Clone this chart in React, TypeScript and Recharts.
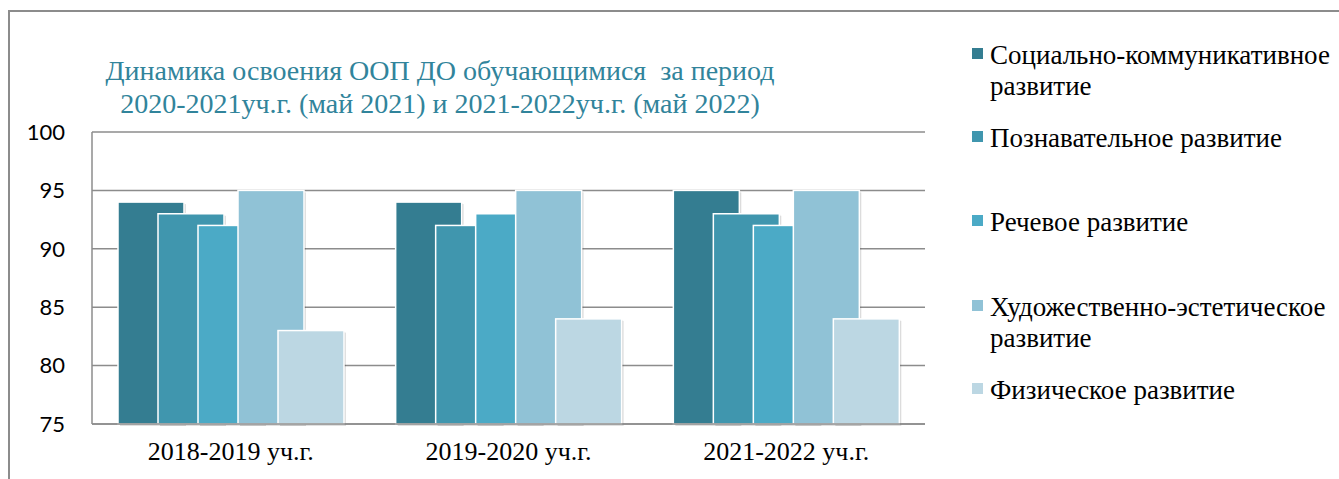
import React from 'react';
import { BarChart, Bar, XAxis, YAxis, CartesianGrid } from 'recharts';

const categories = ['2018-2019 уч.г.', '2019-2020 уч.г.', '2021-2022 уч.г.'];

const seriesNames = [
  'Социально-коммуникативное развитие',
  'Познавательное развитие',
  'Речевое развитие',
  'Художественно-эстетическое развитие',
  'Физическое развитие',
];

const socialValues = [94, 94, 95];
const cognitiveValues = [93, 92, 93];
const speechValues = [92, 93, 92];
const artValues = [95, 95, 95];
const physicalValues = [83, 84, 84];

const yTicks = [75, 80, 85, 90, 95, 100];

const COLORS = ['#347d91', '#4096ae', '#4baac6', '#90c2d6', '#bcd7e3'];

const seriesValues = [socialValues, cognitiveValues, speechValues, artValues, physicalValues];

const chartData = categories.map((name, i) => {
  const row: Record<string, string | number> = { name };
  seriesValues.forEach((vals, s) => {
    row[`s${s}`] = vals[i];
  });
  return row;
});

// legend rows: top of each item on the page
const LEGEND_TOPS = [40, 123, 207, 292, 375];

const BarShape = (props: any) => {
  const { x, y, width, height, fill } = props;
  if (!height || height <= 0) return null;
  return (
    <g>
      {/* soft shadow, offset down-right */}
      <rect x={x + 2} y={y + 2} width={width} height={height} fill="#000" fillOpacity={0.12} />
      <rect x={x + 1} y={y + 1} width={width} height={height} fill="#000" fillOpacity={0.1} />
      <rect x={x} y={y} width={width} height={height} fill={fill} stroke="#ffffff" strokeWidth={1.5} />
    </g>
  );
};

function ChartLegend() {
  return (
    <>
      {seriesNames.map((name, i) => (
        <div
          key={name}
          style={{
            position: 'absolute',
            left: 972,
            top: LEGEND_TOPS[i],
            width: 362,
            fontFamily: 'Liberation Serif',
            fontSize: 27,
            lineHeight: '31px',
            color: '#000',
          }}
        >
          <span
            style={{
              position: 'absolute',
              left: 0,
              top: 8,
              width: 11,
              height: 11,
              background: COLORS[i],
            }}
          />
          <div style={{ marginLeft: 18 }}>{name}</div>
        </div>
      ))}
    </>
  );
}

export default function App() {
  return (
    <div
      style={{
        position: 'relative',
        width: 1339,
        height: 479,
        overflow: 'hidden',
        fontFamily: 'Liberation Serif',
      }}
    >
      <style>{'body { margin: 0; }'}</style>
      <div
        style={{
          position: 'absolute',
          left: 8,
          top: 10,
          right: 0,
          bottom: 0,
          borderTop: '2px solid #8c8c8c',
          borderLeft: '2px solid #8c8c8c',
        }}
      />
      <div
        style={{
          position: 'absolute',
          left: 0,
          width: 880,
          top: 54,
          textAlign: 'center',
          fontFamily: 'Liberation Serif',
          fontSize: 28,
          lineHeight: '33px',
          color: '#31849b',
        }}
      >
        <div>Динамика освоения ООП ДО обучающимися&nbsp; за период</div>
        <div>2020-2021уч.г. (май 2021) и 2021-2022уч.г. (май 2022)</div>
      </div>
      <div style={{ position: 'absolute', left: 0, top: 0 }}>
        <BarChart
          width={1339}
          height={479}
          data={chartData}
          margin={{ top: 132, right: 414, bottom: 10, left: 0 }}
          barSize={66}
          barGap={-26}
        >
          <CartesianGrid vertical={false} stroke="#8c8c8c" strokeWidth={1.5} />
          <XAxis
            dataKey="name"
            height={45}
            axisLine={{ stroke: '#8c8c8c', strokeWidth: 1.5 }}
            tickLine={false}
            tickSize={0}
            tickMargin={18}
            tick={{ fill: '#000', fontFamily: 'Liberation Serif', fontSize: 26 }}
          />
          <YAxis
            width={92}
            domain={[75, 100]}
            ticks={yTicks}
            interval={0}
            axisLine={{ stroke: '#8c8c8c', strokeWidth: 1.5 }}
            tickLine={false}
            tickSize={0}
            tickMargin={27}
            tick={{ fill: '#000', fontFamily: 'Lato', fontSize: 22 }}
          />
          {seriesNames.map((name, i) => (
            <Bar
              key={name}
              dataKey={`s${i}`}
              name={name}
              fill={COLORS[i]}
              shape={<BarShape />}
              isAnimationActive={false}
            />
          ))}
        </BarChart>
      </div>
      <ChartLegend />
    </div>
  );
}
